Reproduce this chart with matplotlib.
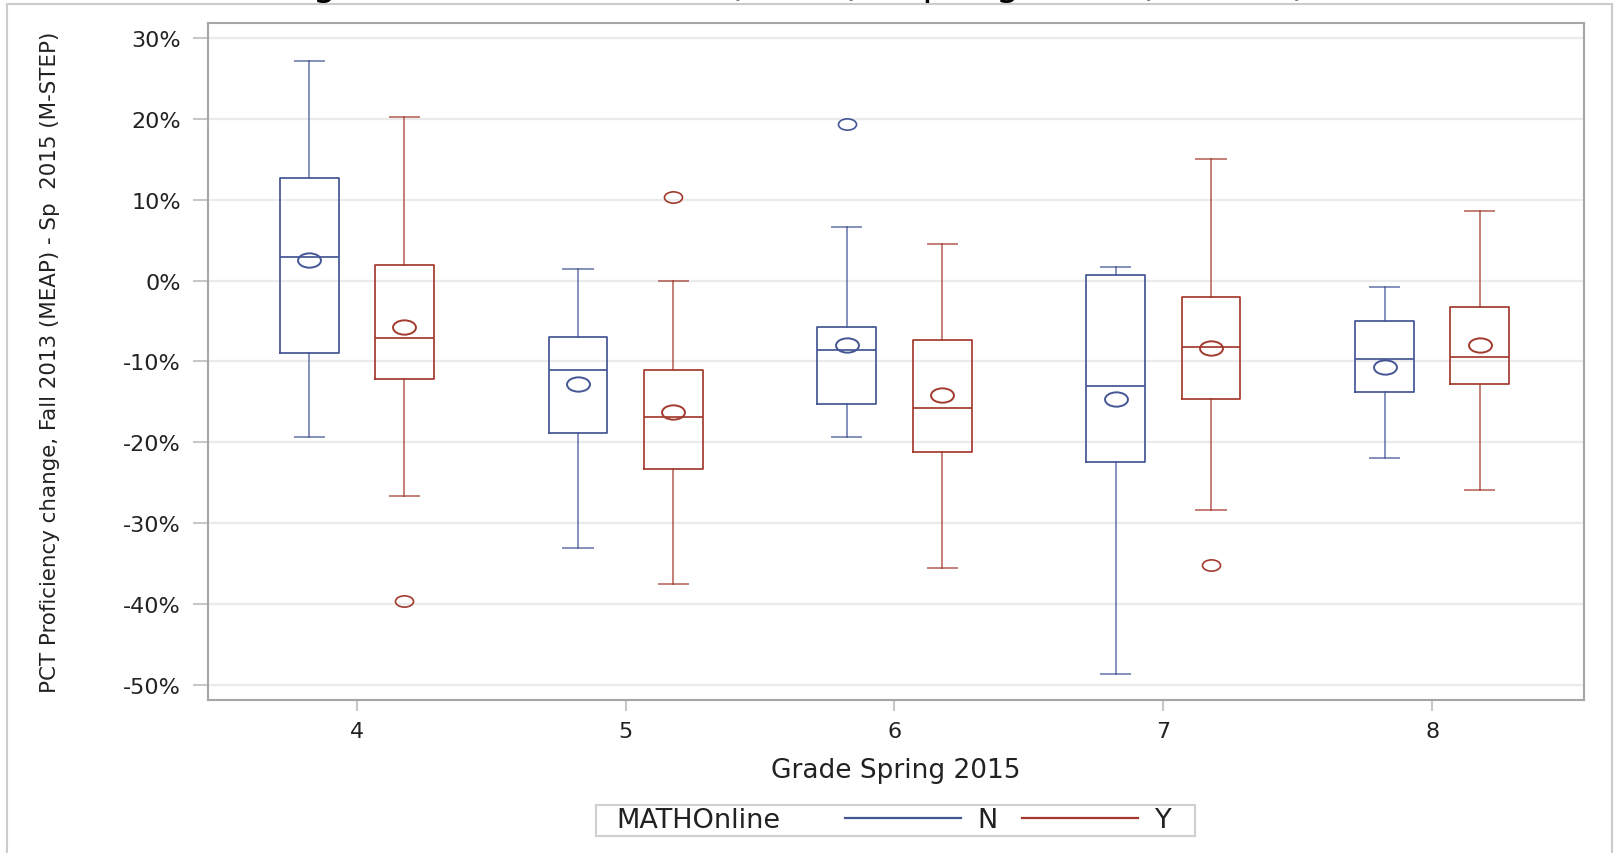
import numpy as np
import matplotlib.pyplot as plt
from matplotlib.lines import Line2D
from matplotlib.patches import Rectangle
from matplotlib.path import Path
from matplotlib.transforms import Affine2D
from matplotlib.ticker import FuncFormatter
from matplotlib.offsetbox import HPacker, DrawingArea

# summary stats (percent)
grades = [4, 5, 6, 7, 8]

n_whislo = [-19.4, -33.1, -19.4, -48.7, -22.0]
n_q1 = [-8.9, -18.8, -15.3, -22.4, -13.8]
n_med = [2.9, -11.0, -8.6, -13.0, -9.7]
n_mean = [2.6, -12.8, -8.0, -14.6, -10.7]
n_q3 = [12.7, -7.0, -5.7, 0.7, -5.0]
n_whishi = [27.2, 1.5, 6.7, 1.7, -0.8]
n_fliers = [[], [], [19.4], [], []]

y_whislo = [-26.7, -37.6, -35.6, -28.4, -25.9]
y_q1 = [-12.2, -23.3, -21.2, -14.7, -12.8]
y_med = [-7.1, -16.9, -15.8, -8.2, -9.4]
y_mean = [-5.7, -16.3, -14.1, -8.3, -8.0]
y_q3 = [2.0, -11.0, -7.4, -2.0, -3.3]
y_whishi = [20.3, 0.0, 4.6, 15.1, 8.6]
y_fliers = [[-39.6], [10.4], [], [-35.2], []]

yticks = [-50, -40, -30, -20, -10, 0, 10, 20, 30]

blue = '#445694'
red = '#A23A2E'
text_col = '#222222'

plt.rcParams['axes.unicode_minus'] = False


def make_stats(lo, q1, med, mean, q3, hi, fl):
    out = []
    for i in range(len(lo)):
        out.append(dict(whislo=lo[i], q1=q1[i], med=med[i], mean=mean[i],
                        q3=q3[i], whishi=hi[i], fliers=np.array(fl[i])))
    return out


# SAS draws the circles a bit squashed
ellipse = Path.unit_circle().transformed(Affine2D().scale(1.6, 1.0))

fig = plt.figure(figsize=(16.14, 8.54), dpi=100)
ax = fig.add_axes([0.12918, 0.17916, 0.85223, 0.79274])

# cut-off title at the very top
fig.text(0.4718, 1 + 5 / 854, 'Change in MATH, Fall 2013 (MEAP) - Spring 2015 (M-STEP)',
         ha='center', va='baseline', fontsize=27, color='black')

# outer border
fig.add_artist(Rectangle((7 / 1614, -0.05), 1605 / 1614, 1.05 - 5 / 854,
                         transform=fig.transFigure, fill=False,
                         edgecolor='#CCCCCC', lw=1.5))

offset = 0.177
width = 0.219
groups = [(make_stats(n_whislo, n_q1, n_med, n_mean, n_q3, n_whishi, n_fliers), -offset, blue),
          (make_stats(y_whislo, y_q1, y_med, y_mean, y_q3, y_whishi, y_fliers), offset, red)]

for stats, off, col in groups:
    pos = [g + off for g in grades]
    ax.bxp(stats, positions=pos, widths=width, capwidths=0.108,
           showmeans=True, manage_ticks=False,
           boxprops=dict(color=col, lw=1.25),
           medianprops=dict(color=col, lw=1.25),
           whiskerprops=dict(color=col, lw=1.4, alpha=0.65),
           capprops=dict(color=col, lw=1.4, alpha=0.65),
           meanprops=dict(marker=ellipse, markersize=16.5, markerfacecolor='none',
                          markeredgecolor=col, markeredgewidth=1.4),
           flierprops=dict(marker=ellipse, markersize=13, markerfacecolor='none',
                           markeredgecolor=col, markeredgewidth=1.2),
           zorder=3)

ax.set_xlim(3.449, 8.564)
ax.set_ylim(-51.9, 31.9)
ax.set_xticks(grades)
ax.set_yticks(yticks)
ax.yaxis.set_major_formatter(FuncFormatter(lambda v, p: f'{v:.0f}%'))
ax.grid(axis='y', color='#EBEBEB', lw=1.6, zorder=0)
ax.set_axisbelow(True)

for sp in ax.spines.values():
    sp.set_color('#A5A5A5')
    sp.set_linewidth(1.5)

ax.tick_params(axis='y', length=10.8, width=1.5, color='#C8C8C8', pad=9,
               labelsize=16, labelcolor=text_col)
ax.tick_params(axis='x', length=7.8, width=1.5, color='#C8C8C8', pad=7,
               labelsize=16, labelcolor=text_col)

ax.set_ylabel('PCT Proficiency change, Fall 2013 (MEAP) - Sp  2015 (M-STEP)',
              fontsize=15.4, color=text_col)
ax.yaxis.set_label_coords(-0.108, 0.5)
ax.set_xlabel('Grade Spring 2015', fontsize=19, color=text_col, labelpad=12)

# legend: title on the left, entries to its right
fs = 19.5
handles = [Line2D([], [], color=blue, lw=1.6), Line2D([], [], color=red, lw=1.6)]
leg = fig.legend(handles, ['N', 'Y'], title='MATHOnline', ncols=2, loc='center',
                 bbox_to_anchor=(0.5548, 0.0383), fontsize=fs, title_fontsize=fs,
                 handlelength=4.3, handletextpad=0.6, columnspacing=0.9,
                 borderpad=0.1, fancybox=False, framealpha=1,
                 edgecolor='#D0D0D0', labelcolor=text_col)
leg.get_frame().set_linewidth(1.5)
leg.get_title().set_color(text_col)
leg._legend_box = HPacker(pad=leg.borderpad * fs, sep=0, align='center',
                          children=[DrawingArea(13, 1), leg._legend_title_box,
                                    DrawingArea(46, 1), leg._legend_handle_box,
                                    DrawingArea(15, 1)])
leg._legend_box.set_figure(fig)
leg._legend_box.set_offset(leg._findoffset)

fig.savefig('out.png', dpi=100)
